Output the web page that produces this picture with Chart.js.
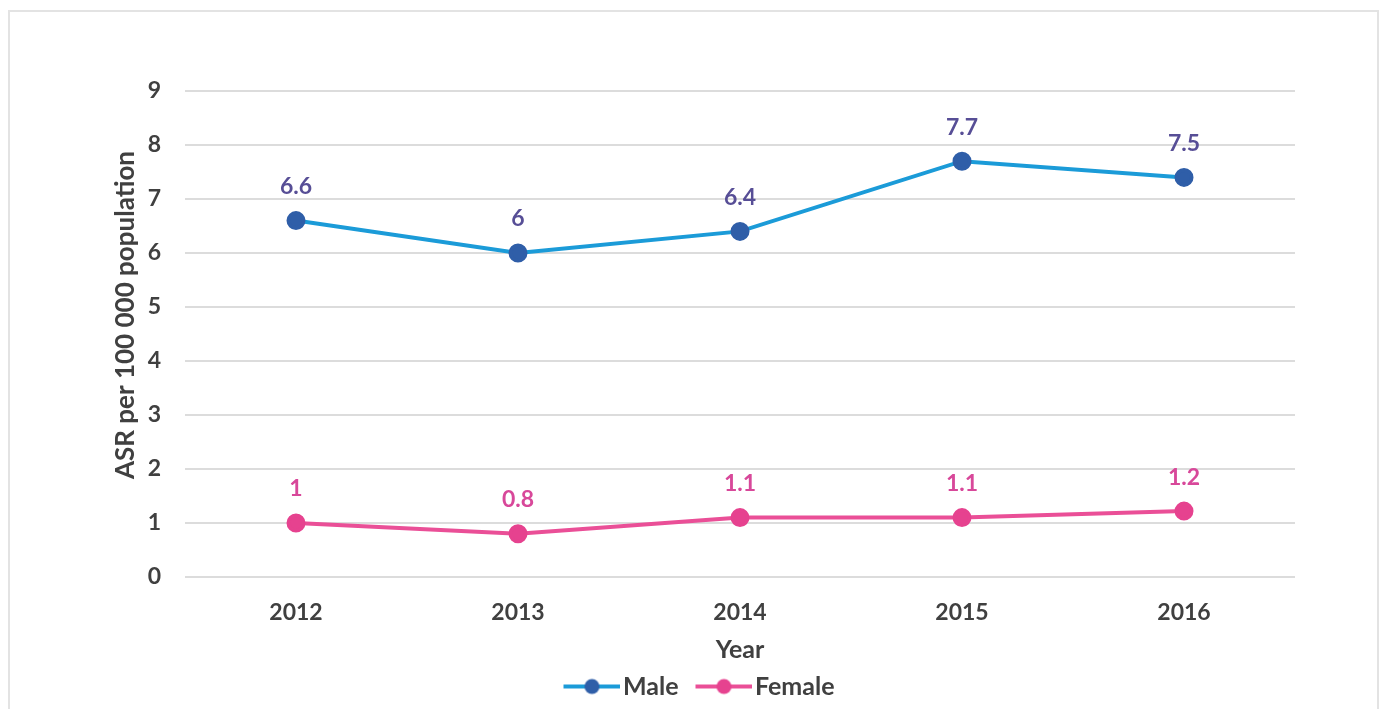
<!DOCTYPE html>
<html>
<head>
<meta charset="utf-8">
<script src="https://cdn.jsdelivr.net/npm/chart.js@4.4.1/dist/chart.umd.min.js"></script>
<style>
html,body{margin:0;padding:0;background:#fff;}
#wrap{position:relative;width:1380px;height:709px;overflow:hidden;}
#frame{position:absolute;left:8px;top:10px;width:1367px;height:720px;border:2px solid #e3e3e3;pointer-events:none;}
canvas{position:absolute;left:0;top:0;}
</style>
</head>
<body>
<div id="wrap">
<canvas id="c" width="1380" height="709"></canvas>
<div id="frame"></div>
</div>
<script>
const years = ["2012", "2013", "2014", "2015", "2016"];
const maleValues = [6.6, 6.0, 6.4, 7.7, 7.4];
const maleLabels = ["6.6", "6", "6.4", "7.7", "7.5"];
const femaleValues = [1.0, 0.8, 1.1, 1.1, 1.22];
const femaleLabels = ["1", "0.8", "1.1", "1.1", "1.2"];
const yTicks = [0, 1, 2, 3, 4, 5, 6, 7, 8, 9];

const FONT = "Lato, 'Open Sans', sans-serif";
const TXT = "#404040";

function legendIcon(lineColor, dotColor) {
  const cv = document.createElement('canvas');
  cv.width = 74; cv.height = 18;
  const g = cv.getContext('2d');
  g.strokeStyle = lineColor; g.lineWidth = 4;
  g.beginPath(); g.moveTo(17, 9); g.lineTo(74, 9); g.stroke();
  g.fillStyle = dotColor;
  g.beginPath(); g.arc(45.5, 9, 7.5, 0, Math.PI * 2); g.fill();
  return cv;
}

const dataLabels = {
  id: 'dataLabels',
  afterDatasetsDraw(chart) {
    const ctx = chart.ctx;
    ctx.save();
    ctx.font = "bold 23px " + FONT;
    ctx.textAlign = 'center';
    ctx.textBaseline = 'middle';
    chart.data.datasets.forEach((ds, i) => {
      const meta = chart.getDatasetMeta(i);
      ctx.fillStyle = ds.labelColor;
      meta.data.forEach((pt, j) => {
        ctx.fillText(ds.labelTexts[j], pt.x, pt.y - 34);
      });
    });
    ctx.restore();
  }
};

const legendShift = {
  id: 'legendShift',
  afterLayout(chart) {
    const lg = chart.legend;
    if (lg) { lg.left += 48; lg.right += 48; }
  }
};

new Chart(document.getElementById('c'), {
  type: 'line',
  data: {
    labels: years,
    datasets: [
      {
        label: 'Male',
        data: maleValues,
        labelTexts: maleLabels,
        labelColor: '#574e96',
        borderColor: '#1b9bd8',
        backgroundColor: '#2f5ea8',
        pointBackgroundColor: '#2f5ea8',
        pointBorderColor: '#2f5ea8',
        borderWidth: 4,
        pointRadius: 7.5,
        tension: 0
      },
      {
        label: 'Female',
        data: femaleValues,
        labelTexts: femaleLabels,
        labelColor: '#d8489a',
        borderColor: '#ea4f97',
        backgroundColor: '#e6428f',
        pointBackgroundColor: '#e6428f',
        pointBorderColor: '#e6428f',
        borderWidth: 4,
        pointRadius: 7.5,
        tension: 0
      }
    ]
  },
  options: {
    responsive: false,
    animation: false,
    devicePixelRatio: 1,
    layout: { padding: { top: 91, right: 85, left: 0, bottom: 0 } },
    plugins: {
      tooltip: { enabled: false },
      legend: {
        position: 'bottom',
        labels: {
          usePointStyle: true,
          pointStyleWidth: 54,
          padding: 10,
          color: TXT,
          font: { family: FONT, size: 25, weight: 'bold' },
          generateLabels(chart) {
            return chart.data.datasets.map((ds, i) => ({
              text: ds.label,
              pointStyle: legendIcon(ds.borderColor, ds.pointBackgroundColor),
              fillStyle: ds.pointBackgroundColor,
              strokeStyle: ds.borderColor,
              lineWidth: 0,
              fontColor: TXT,
              hidden: false,
              datasetIndex: i
            }));
          }
        }
      }
    },
    scales: {
      x: {
        offset: true,
        grid: { display: false, drawTicks: false },
        border: { display: false },
        ticks: { color: TXT, padding: 22, font: { family: FONT, size: 23, weight: 'bold' } },
        title: { display: true, text: 'Year', color: TXT, padding: { top: 0, bottom: 0 }, font: { family: FONT, size: 25, weight: 'bold', lineHeight: 1.1 } },
        afterFit(s) { s.height = 87; }
      },
      y: {
        min: 0, max: 9,
        afterBuildTicks(s) { s.ticks = yTicks.map(v => ({ value: v })); },
        grid: { color: '#dcdcdc', lineWidth: 2, drawTicks: false },
        border: { display: false },
        ticks: { color: TXT, padding: 24, font: { family: FONT, size: 23, weight: 'bold' } },
        title: { display: true, text: '      ASR per 100 000 population', color: TXT, padding: { top: 110, bottom: 0 }, font: { family: FONT, size: 26, weight: 'bold' } },
        afterFit(s) { s.width = 185; }
      }
    }
  },
  plugins: [dataLabels, legendShift]
});
</script>
</body>
</html>
